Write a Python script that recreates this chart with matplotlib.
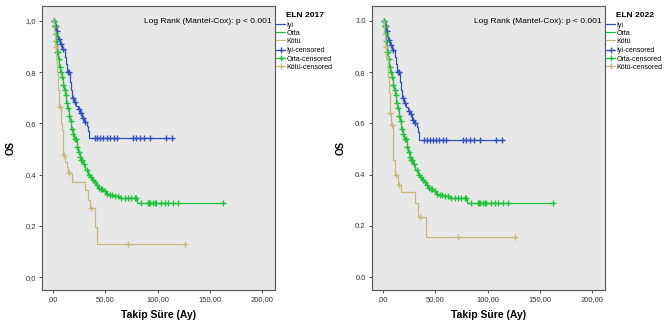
import numpy as np
import matplotlib.pyplot as plt
from matplotlib.lines import Line2D

plt.rcParams['font.family'] = ['Liberation Sans Narrow', 'Liberation Sans', 'DejaVu Sans']

# --- DATA ---
# ELN 2017
iyi17_t = [0, 1.5, 3, 4, 5, 7, 9, 11, 12, 13, 16, 17, 18, 20, 22, 24, 26, 28, 30, 32, 33, 34]
iyi17_s = [1.0, 0.98, 0.96, 0.94, 0.93, 0.91, 0.89, 0.86, 0.83, 0.80, 0.76, 0.73, 0.70, 0.685,
           0.67, 0.655, 0.64, 0.62, 0.605, 0.59, 0.57, 0.543]
iyi17_c = [1, 2, 2.5, 3.5, 6, 8, 10, 14, 15, 19, 21, 25, 27, 29, 31, 40, 42.2, 44.8, 47.9, 51.1,
           54.3, 58.1, 61.2, 76.5, 79.7, 83.1, 86.7, 92.4, 108.3, 113.3]

orta17_t = [0, 1, 2, 3, 3.5, 5, 6, 7, 8.3, 9.5, 10.5, 11.4, 12.5, 13.5, 15, 16, 17.5, 19, 20.5,
            22.5, 24, 25.5, 27, 29, 31, 33, 35, 37, 39, 41, 43, 45, 48, 51, 54, 58, 63, 80]
orta17_s = [1.0, 0.98, 0.95, 0.92, 0.88, 0.85, 0.82, 0.80, 0.78, 0.75, 0.73, 0.71, 0.68, 0.66,
            0.63, 0.61, 0.58, 0.56, 0.54, 0.51, 0.49, 0.47, 0.457, 0.44, 0.42, 0.40, 0.39, 0.38,
            0.37, 0.36, 0.35, 0.346, 0.335, 0.325, 0.32, 0.315, 0.31, 0.29]
orta17_c = [0.5, 1.5, 2.5, 3.2, 4, 4.5, 5.5, 6.5, 7.5, 9, 10, 11, 12, 13, 14, 15.5, 17, 18,
            19.5, 21, 22, 23, 24.5, 26, 27, 28, 30, 32, 34, 36, 38, 40, 42, 44, 46, 47, 50, 52,
            54.3, 56, 59, 62.2, 65.4, 68.6, 71.7, 74.9, 78.1, 79.7, 84.4, 90.8, 92, 93, 95.5,
            97, 98.8, 103.5, 106.7, 109.8, 114.6, 119.3, 162]

kotu17_t = [0, 1, 2, 3, 4, 5, 6, 7.3, 8.3, 9.8, 11.4, 13, 14.6, 17.8, 30.5, 33, 35, 40, 41.6]
kotu17_s = [1.0, 0.96, 0.90, 0.86, 0.80, 0.73, 0.665, 0.60, 0.574, 0.477, 0.45, 0.43, 0.405,
            0.372, 0.34, 0.30, 0.27, 0.196, 0.13]
kotu17_c = [2.5, 7, 10.5, 15.5, 36.5, 71.7, 126]

# ELN 2022
iyi22_t = [0, 1.5, 3, 4, 5, 7, 9, 11, 12, 13, 16, 17, 18, 20, 22, 24, 26, 28, 30, 32, 33, 34]
iyi22_s = [1.0, 0.98, 0.96, 0.94, 0.925, 0.905, 0.885, 0.86, 0.83, 0.80, 0.76, 0.73, 0.70, 0.68,
           0.665, 0.65, 0.635, 0.615, 0.60, 0.585, 0.565, 0.537]
iyi22_c = [1, 2, 2.5, 3.5, 6, 8, 10, 14, 15, 19, 21, 25, 27, 29, 31, 39.5, 42, 44.8, 47.9, 50.5,
           53.5, 57.5, 60.5, 76.5, 79.7, 83.1, 86.7, 92.4, 108.3, 113.3]

orta22_t = orta17_t
orta22_s = orta17_s
orta22_c = orta17_c

kotu22_t = [0, 1, 2, 3.2, 4.8, 5.5, 6.4, 8, 9.5, 10, 11, 14.3, 17.5, 31, 33.3, 41.3]
kotu22_s = [1.0, 0.95, 0.90, 0.86, 0.78, 0.72, 0.64, 0.594, 0.496, 0.457, 0.40, 0.36, 0.333,
            0.29, 0.235, 0.157]
kotu22_c = [2.5, 7, 9, 12.5, 15.5, 35.5, 71.4, 126]

panels = [
    ("ELN 2017", [(iyi17_t, iyi17_s, iyi17_c), (orta17_t, orta17_s, orta17_c), (kotu17_t, kotu17_s, kotu17_c)],
     ["1,0", "0,8", "0,6", "0,4", "0,2", "0,0"]),
    ("ELN 2022", [(iyi22_t, iyi22_s, iyi22_c), (orta22_t, orta22_s, orta22_c), (kotu22_t, kotu22_s, kotu22_c)],
     ["1.0", "0,8", "0.6", "0.4", "0.2", "0.0"]),
]
group_names = ["İyi", "Orta", "Kötü"]
colors = ["#3350c0", "#1ec23a", "#c8b87c"]
yticks = [1.0, 0.8, 0.6, 0.4, 0.2, 0.0]
xticks = [0, 50, 100, 150, 200]
xticklabels = [",00", "50,00", "100,00", "150,00", "200,00"]


def km_at(t, times, surv):
    idx = np.searchsorted(times, t, side="right") - 1
    return np.asarray(surv)[idx]


fig = plt.figure(figsize=(6.68, 3.27), dpi=100)
lefts = [42 / 668, 372 / 668]

for left, (title, curves, ylabels) in zip(lefts, panels):
    ax = fig.add_axes([left, 0.113, 0.3488, 0.8685])
    ax.set_facecolor("#e8e8e8")
    for (t, s, c), col in zip(curves, colors):
        t = np.array(t, dtype=float)
        s = np.array(s, dtype=float)
        c = np.array(c, dtype=float)
        tt = np.append(t, c.max())
        ss = np.append(s, s[-1])
        ax.step(tt, ss, where="post", color=col, lw=0.9)
        ax.plot(c, km_at(c, t, s), ls="none", marker="+", ms=4, mew=1.0, color=col)

    ax.set_xlim(-10.5, 212)
    ax.set_ylim(-0.05, 1.058)
    ax.set_yticks(yticks)
    ax.set_yticklabels(ylabels, fontsize=5.5)
    ax.set_xticks(xticks)
    ax.set_xticklabels(xticklabels, fontsize=5.5)
    ax.tick_params(length=2.5, width=0.6, pad=2, colors="#333333")
    for sp in ax.spines.values():
        sp.set_color("#555555")
        sp.set_linewidth(0.8)
    ax.set_ylabel("OS", fontsize=7, fontweight="bold", labelpad=7)
    ax.set_xlabel("Takip Süre (Ay)", fontsize=7.5, fontweight="bold", labelpad=5)
    ax.text(0.985, 0.945, "Log Rank (Mantel-Cox): p < 0.001", transform=ax.transAxes,
            ha="right", va="center", fontsize=6)

    handles = [Line2D([], [], color=col, lw=0.9) for col in colors]
    handles += [Line2D([], [], color=col, lw=0.9, marker="+", ms=4, mew=1.0) for col in colors]
    labels = group_names + [g + "-censored" for g in group_names]
    leg = ax.legend(handles, labels, title=title, loc="upper left", bbox_to_anchor=(1.0, 0.985),
                    frameon=False, fontsize=5, title_fontsize=6, handlelength=1.3,
                    handletextpad=0.2, labelspacing=0.15, borderaxespad=0.2, borderpad=0)
    leg.get_title().set_fontweight("bold")

plt.savefig("out.png", dpi=100, facecolor="white")
